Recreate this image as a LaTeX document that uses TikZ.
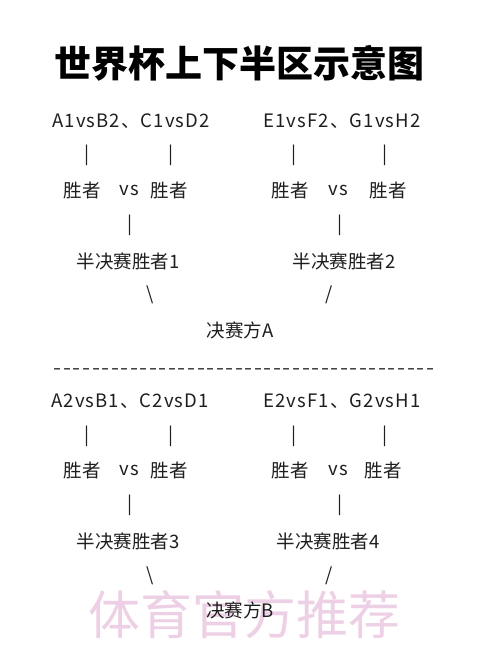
\documentclass[tikz,border=0pt]{standalone}
\usepackage{fontspec}
\setmainfont{Noto Sans CJK SC}
\definecolor{inkgray}{RGB}{30,30,30}
\definecolor{wmpink}{RGB}{226,178,212}
\begin{document}
\begin{tikzpicture}[x=1pt,y=-1pt,
	txt/.style={inner sep=0pt,text=inkgray,font=\fontsize{18.5}{20}\selectfont},
	pair/.style={txt,font=\fontsize{18.5}{20}\selectfont\addfontfeature{LetterSpace=6}},
	ttl/.style={inner sep=0pt,text=black,font=\fontsize{37}{40}\selectfont\bfseries},
	wmark/.style={inner sep=0pt,text=wmpink,opacity=0.6,font=\fontsize{52}{56}\selectfont}]
		\fill[white] (0,0) rectangle (500,653);
		\useasboundingbox (0,0) rectangle (500,653);
		% title
		\node[ttl] (title) at (239,63) {世界杯上下半区示意图};
		% upper half
		\node[pair] (m1) at (131,121) {A1vsB2、C1vsD2};
		\node[pair] (m2) at (342,121) {E1vsF2、G1vsH2};
		\node[txt] (b1) at (87,155) {|};
		\node[txt] (b2) at (171,155) {|};
		\node[txt] (b3) at (294,155) {|};
		\node[txt] (b4) at (385,155) {|};
		\node[txt] (w1) at (82,190) {胜者};
		\node[pair] (v1) at (129,190) {vs};
		\node[txt] (w2) at (169,190) {胜者};
		\node[txt] (w3) at (290,190) {胜者};
		\node[pair] (v2) at (338,190) {vs};
		\node[txt] (w4) at (388,190) {胜者};
		\node[txt] (b5) at (130,225) {|};
		\node[txt] (b6) at (340,225) {|};
		\node[txt] (s1) at (128,261) {半决赛胜者1};
		\node[txt] (s2) at (344,261) {半决赛胜者2};
		\node[txt] (d1) at (150,295) {\textbackslash};
		\node[txt] (d2) at (329,295) {/};
		\node[txt] (fA) at (240,330) {决赛方A};
		% separator
		\node[txt] (sep) at (244,372) {\hbox to 382pt{\xleaders\hbox to 9.32pt{\hss\scalebox{1.25}[1]{-}\hss}\hfill}};
		% lower half
		\node[pair] (m3) at (130,401) {A2vsB1、C2vsD1};
		\node[pair] (m4) at (342,401) {E2vsF1、G2vsH1};
		\node[txt] (b7) at (87,436) {|};
		\node[txt] (b8) at (171,436) {|};
		\node[txt] (b9) at (294,436) {|};
		\node[txt] (b10) at (385,436) {|};
		\node[txt] (w5) at (82,470) {胜者};
		\node[pair] (v3) at (129,470) {vs};
		\node[txt] (w6) at (169,470) {胜者};
		\node[txt] (w7) at (290,470) {胜者};
		\node[pair] (v4) at (338,470) {vs};
		\node[txt] (w8) at (383,470) {胜者};
		\node[txt] (b11) at (130,505) {|};
		\node[txt] (b12) at (340,505) {|};
		\node[txt] (s3) at (128,541) {半决赛胜者3};
		\node[txt] (s4) at (328,541) {半决赛胜者4};
		\node[txt] (d3) at (150,576) {\textbackslash};
		\node[txt] (d4) at (329,576) {/};
		% watermark behind the final
		\node[wmark] (wm) at (244,615) {体育官方推荐};
		\node[txt] (fB) at (240,610) {决赛方B};
	\end{tikzpicture}
\end{document}
